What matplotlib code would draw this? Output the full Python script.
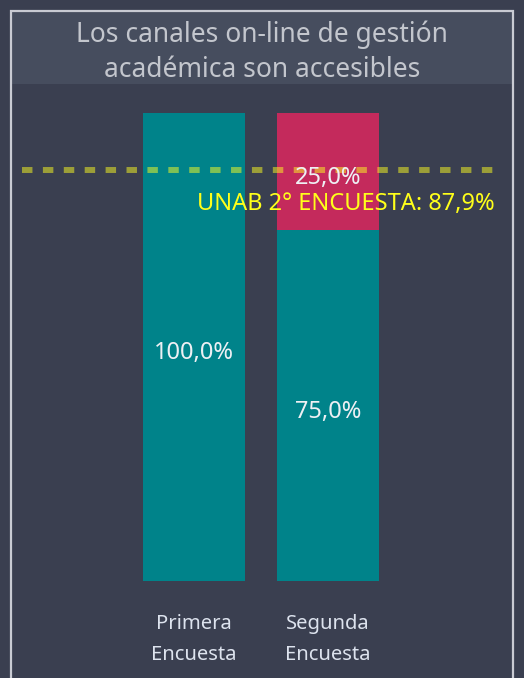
import matplotlib
matplotlib.use("Agg")
import matplotlib.pyplot as plt
from matplotlib.patches import Rectangle

plt.rcParams["font.family"] = ["Noto Sans", "DejaVu Sans"]

# --- data ---
categories = ["Primera\nEncuesta", "Segunda\nEncuesta"]
positivo = [100.0, 75.0]
negativo = [0.0, 25.0]
referencia = 87.9
ref_label = "UNAB 2° ENCUESTA: 87,9%"
title = "Los canales on-line de gestión\nacadémica son accesibles"

bg = "#3a3f50"
band = "#464d5e"
teal = "#00838a"
crimson = "#c42a5c"

W, H = 524, 678
fig = plt.figure(figsize=(W / 100, H / 100), dpi=100, facecolor=bg)

# frame + title band
fig.patches.append(Rectangle((11 / W, 1 - 84 / H), 502 / W, 73 / H, transform=fig.transFigure,
                             facecolor=band, edgecolor="none", zorder=0))
fig.patches.append(Rectangle((11 / W, -0.05), 502 / W, 1.05 - 11 / H, transform=fig.transFigure,
                             facecolor="none", edgecolor="#c9cbd3", linewidth=1.6, zorder=5))
fig.text(0.5, 1 - 52 / H, title, ha="center", va="center", fontsize=19, color="#c3c6cd",
         linespacing=1.34)

ax = fig.add_axes([11 / W, (H - 581) / H, 502 / W, 468 / H])
ax.set_facecolor("none")
x = list(range(len(categories)))
ax.bar(x, positivo, width=0.76, color=teal, zorder=2)
ax.bar(x, negativo, width=0.76, bottom=positivo, color=crimson, zorder=2)

for xi, p, n in zip(x, positivo, negativo):
    ax.text(xi, p / 2 - 1.3, f"{p:.1f}%".replace(".", ","), ha="center", va="center",
            fontsize=17, color="#eef0f4", zorder=4)
    if n > 0:
        ax.text(xi, p + n / 2 - 1.3, f"{n:.1f}%".replace(".", ","), ha="center", va="center",
                fontsize=17, color="#eef0f4", zorder=4)

ax.axhline(referencia, xmin=0.022, xmax=0.964, color="#ffff22", alpha=0.5, linewidth=4.3,
           linestyle=(0, (1.75, 1.75)), dash_capstyle="butt", zorder=3)
ax.text(0.964, referencia - 7.4, ref_label, transform=ax.get_yaxis_transform(),
        ha="right", va="center", fontsize=17, color="#ffff1a", zorder=4)

ax.set_xlim((11 - 194) / 134, (513 - 194) / 134)
ax.set_ylim(0, 100)
ax.set_xticks(x)
ax.set_xticklabels(categories, fontsize=14.5, color="#dde3ee", linespacing=1.72)
ax.tick_params(axis="x", length=0, pad=24)
ax.set_yticks([])
for s in ax.spines.values():
    s.set_visible(False)

plt.savefig("out.png", dpi=100, facecolor=bg)
